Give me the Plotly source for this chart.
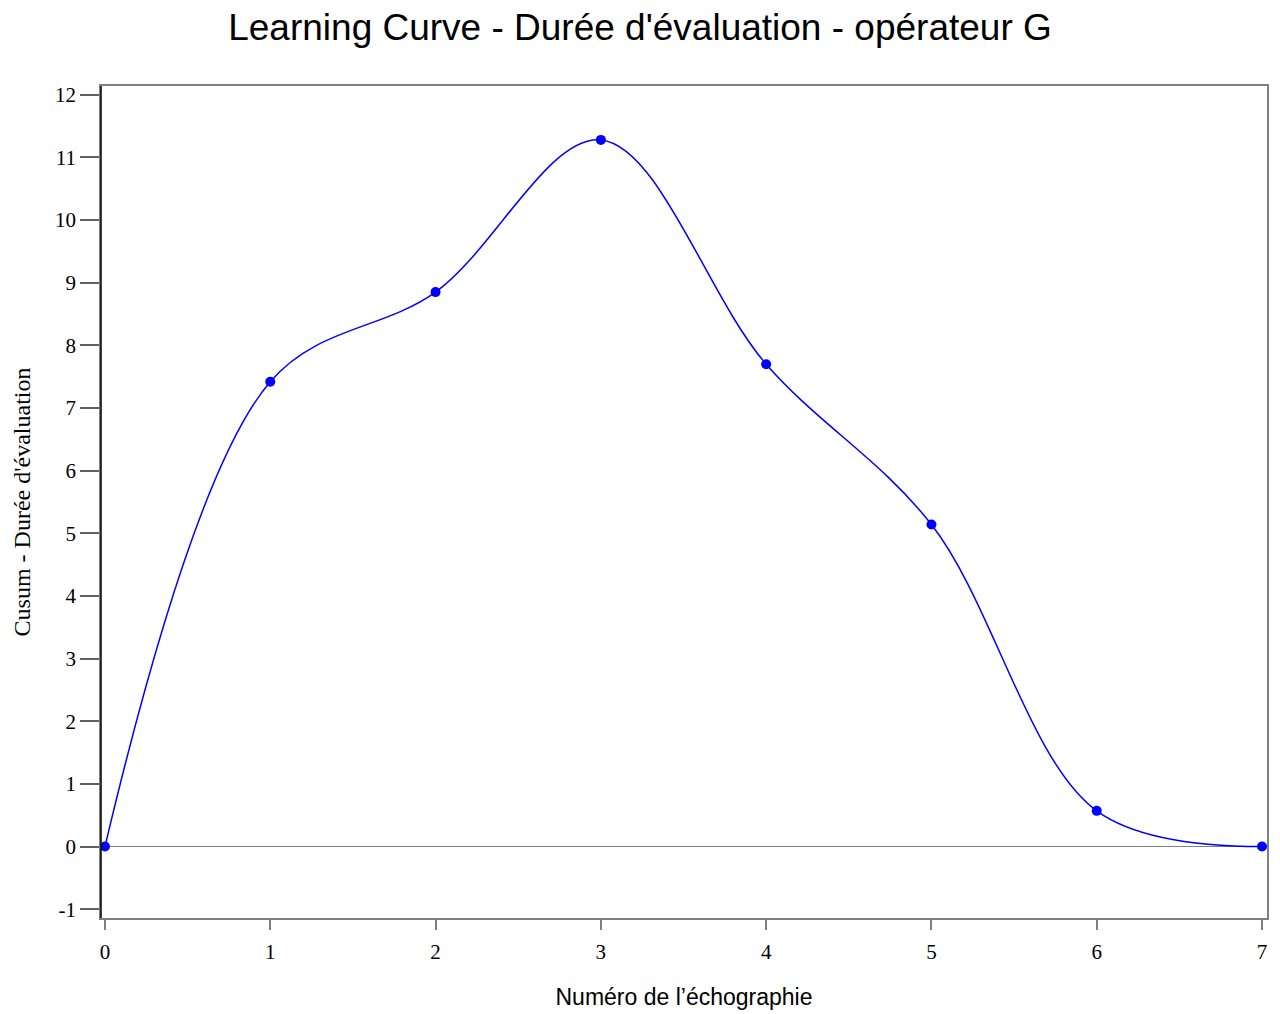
import plotly.graph_objects as go

echo_num = [0, 1, 2, 3, 4, 5, 6, 7]
cusum = [0, 7.42, 8.85, 11.28, 7.70, 5.14, 0.57, 0]
x_ticks = [0, 1, 2, 3, 4, 5, 6, 7]
y_ticks = [-1, 0, 1, 2, 3, 4, 5, 6, 7, 8, 9, 10, 11, 12]
y_ticktext = [str(v) for v in y_ticks]

fig = go.Figure()
fig.add_trace(go.Scatter(
    x=echo_num, y=cusum, mode="lines+markers",
    line=dict(color="#0000ff", width=1.5, shape="spline", smoothing=1.0),
    marker=dict(color="#0000ff", size=10),
    showlegend=False, cliponaxis=False,
))

fig.update_layout(
    width=1280, height=1014,
    margin=dict(l=101, r=13, t=86, b=96),
    plot_bgcolor="white", paper_bgcolor="white",
    title=dict(text="Learning Curve - Durée d'évaluation - opérateur G",
               x=0.5, xanchor="center", y=0.973, yanchor="middle",
               font=dict(family="Liberation Sans, Arial", size=37, color="black")),
    xaxis=dict(range=[-0.024, 7.03], tickvals=x_ticks, showgrid=False, zeroline=False,
               automargin=False,
               showline=True, linecolor="#808080", linewidth=1.5, mirror=True,
               ticks="outside", ticklen=10, tickcolor="#808080", tickwidth=1.5,
               ticklabelstandoff=4,
               tickfont=dict(family="Liberation Serif, Times New Roman", size=21, color="black"),
               title=dict(text="Numéro de l’échographie", standoff=26,
                          font=dict(family="Liberation Sans, Arial", size=23, color="black"))),
    yaxis=dict(range=[-1.14, 12.14], tickvals=y_ticks, ticktext=y_ticktext, showgrid=False,
               automargin=False,
               zeroline=True, zerolinecolor="#808080", zerolinewidth=1,
               showline=True, linecolor="#808080", linewidth=1.5, mirror=True,
               ticks="outside", ticklen=19, tickcolor="#606060", tickwidth=1.5,
               tickfont=dict(family="Liberation Serif, Times New Roman", size=21, color="black"),
               title=dict(text="Cusum - Durée d'évaluation", standoff=18,
                          font=dict(family="Liberation Serif, Times New Roman", size=24, color="black"))),
)
# black left axis line
fig.add_shape(type="line", xref="paper", yref="paper", x0=0, x1=0, y0=0, y1=1,
              line=dict(color="black", width=1.5))

fig.write_html("out.html")
